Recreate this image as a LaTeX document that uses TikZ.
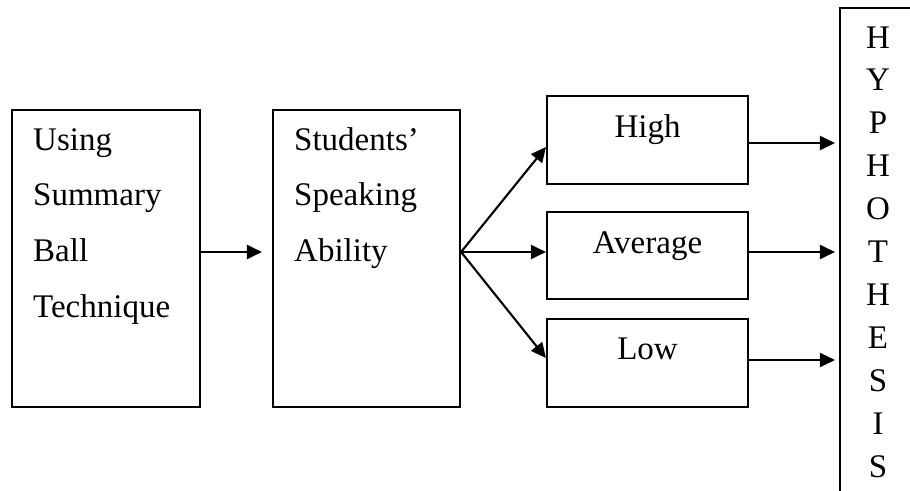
\documentclass[tikz,border=0pt]{standalone}
\usepackage{fontspec}
\setmainfont{Liberation Serif}
\usetikzlibrary{arrows.meta}
\begin{document}
\begin{tikzpicture}[x=1pt,y=-1pt,
  box/.style={draw,line width=2.1pt,rectangle,inner sep=0pt},
  lbl/.style={inner sep=0pt,anchor=base west,font=\fontsize{33}{38}\selectfont},
  clbl/.style={inner sep=0pt,anchor=base,font=\fontsize{33}{38}\selectfont},
  arr/.style={line width=2.1pt,-{Triangle[length=15pt,width=14pt]}}]
\useasboundingbox (0,0) rectangle (910,490);
\clip (0,0) rectangle (910,490);
\fill[white] (0,0) rectangle (910,490);
% boxes
\node[box,minimum width=188pt,minimum height=297pt] (b1) at (106,258.5) {};
\node[box,minimum width=187pt,minimum height=297pt] (b2) at (366.5,258.5) {};
\node[box,minimum width=201pt,minimum height=88pt] (high) at (647.5,140) {};
\node[box,minimum width=201pt,minimum height=87pt] (avg) at (647.5,255.5) {};
\node[box,minimum width=201pt,minimum height=88pt] (low) at (647.5,363) {};
\node[box,minimum width=120pt,minimum height=540pt] (hyp) at (900,278) {};
% texts
\node[lbl] (t1) at (33,150) {Using};
\node[lbl] (t2) at (33,205) {Summary};
\node[lbl] (t3) at (33,261) {Ball};
\node[lbl] (t4) at (33,317) {Technique};
\node[lbl] (s1) at (294,150) {Students’};
\node[lbl] (s2) at (294,205) {Speaking};
\node[lbl] (s3) at (294,261) {Ability};
\node[clbl] (th) at (647.5,137) {High};
\node[clbl] (ta) at (647.5,253) {Average};
\node[clbl] (tl) at (647.5,359) {Low};
\foreach \ch [count=\i from 0] in {H,Y,P,H,O,T,H,E,S,I,S}
  \node[clbl] (hl\i) at (878,48+42.9*\i) {\ch};
% connectors
\coordinate (fan) at (b2.east |- 0,252);
\draw[arr,shorten >=10pt] (b1.east |- fan) -- (b2.west |- fan);
\draw[arr] (fan) -- (high.west |- 0,147);
\draw[arr] (fan) -- (avg.west |- fan);
\draw[arr] (fan) -- (low.west |- 0,358);
\draw[arr,shorten >=4pt] (high.east |- 0,143) -- (hyp.west |- 0,143);
\draw[arr,shorten >=4pt] (avg.east |- 0,252) -- (hyp.west |- 0,252);
\draw[arr,shorten >=4pt] (low.east |- 0,360) -- (hyp.west |- 0,360);
\end{tikzpicture}
\end{document}
